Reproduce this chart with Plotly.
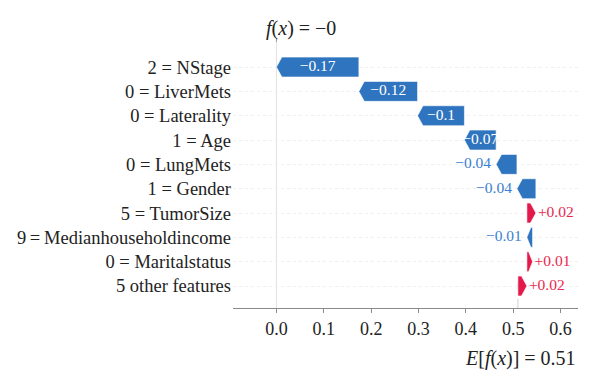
import plotly.graph_objects as go

# ---- data (top row first) ----
features = ["2 = NStage", "0 = LiverMets", "0 = Laterality", "1 = Age", "0 = LungMets",
            "1 = Gender", "5 = TumorSize", "9\u2009=\u2009Medianhouseholdincome",
            "0 = Maritalstatus", "5 other features"]
shap_values = [-0.1742, -0.124, -0.099, -0.067, -0.044, -0.040, 0.019, -0.012, 0.012, 0.019]
base_value = 0.510
x_ticks = [0.0, 0.1, 0.2, 0.3, 0.4, 0.5, 0.6]

BLUE = "#2E74BE"
RED = "#E3194B"
BLUE_TXT = "#3A7FD0"
RED_TXT = "#E8294F"
FONT = "Liberation Serif"


def fmt(v, f="%+0.02f"):
    s = (f % v).rstrip("0").rstrip(".")
    return s.replace("-", "\u2212")


n = len(features)
# walk from the bottom (base value) upward
order = list(range(n - 1, -1, -1))
start = {}
pos = base_value
for i in order:
    start[i] = pos
    pos += shap_values[i]
fx = pos

# page has an 8px body margin: compensate so the plot sits where the reference has it
ML, MR, MT, MB = 225, 30, 34, 90
X_RANGE = [-0.092, 0.637]
PLOT_W = 600 - ML - MR
px_per_unit = PLOT_W / (X_RANGE[1] - X_RANGE[0])
half_h = 0.41
head = 0.0115

polys = {"neg": ([], []), "pos": ([], [])}
in_x, in_y, in_t = [], [], []
out_neg = ([], [], [])
out_pos = ([], [], [])
for i in range(n):
    yc = n - 1 - i
    s = start[i]
    v = shap_values[i]
    e = s + v
    d = 1 if v > 0 else -1
    hl = min(head, abs(v) * 0.7)
    xs = [s, e - d * hl, e, e - d * hl, s, s, None]
    ys = [yc + half_h, yc + half_h, yc, yc - half_h, yc - half_h, yc + half_h, None]
    key = "pos" if v > 0 else "neg"
    polys[key][0].extend(xs)
    polys[key][1].extend(ys)
    label = fmt(v)
    if abs(v) * px_per_unit > 28:
        in_x.append((s + e) / 2)
        in_y.append(yc)
        in_t.append(label)
    elif v < 0:
        out_neg[0].append(e - 5 / px_per_unit)
        out_neg[1].append(yc)
        out_neg[2].append(label)
    else:
        out_pos[0].append(e + 2 / px_per_unit)
        out_pos[1].append(yc)
        out_pos[2].append(label)

fig = go.Figure()
for key, col in (("neg", BLUE), ("pos", RED)):
    fig.add_trace(go.Scatter(x=polys[key][0], y=polys[key][1], mode="lines",
                             fill="toself", fillcolor=col, line=dict(width=0.6, color="white"),
                             hoverinfo="skip", showlegend=False))
fig.add_trace(go.Scatter(x=in_x, y=in_y, text=in_t, mode="text",
                         textfont=dict(family=FONT, size=15.5, color="white"),
                         textposition="middle center", showlegend=False))
fig.add_trace(go.Scatter(x=out_neg[0], y=out_neg[1], text=out_neg[2], mode="text",
                         textfont=dict(family=FONT, size=15.5, color=BLUE_TXT),
                         textposition="middle left", showlegend=False))
fig.add_trace(go.Scatter(x=out_pos[0], y=out_pos[1], text=out_pos[2], mode="text",
                         textfont=dict(family=FONT, size=15.5, color=RED_TXT),
                         textposition="middle right", showlegend=False))

# reference lines
fig.add_shape(type="line", xref="x", yref="paper", x0=fx, x1=fx, y0=0, y1=1,
              line=dict(color="#dcdcdc", width=0.8), layer="below")
fig.add_shape(type="line", xref="x", yref="paper", x0=base_value, x1=base_value, y0=0,
              y1=1 / n, line=dict(color="#c4c4c4", width=0.8, dash="dash"), layer="below")
fig.add_shape(type="line", xref="x", yref="paper", x0=fx, x1=fx, y0=1, y1=1.012,
              line=dict(color="#999999", width=1))

fig.add_annotation(x=fx, y=1.049, xref="x", yref="paper", xanchor="left", yanchor="middle",
                   xshift=-12, showarrow=False,
                   text="<i>f</i>(<i>x</i>) = " + fmt(fx, "%0.03f"),
                   font=dict(family=FONT, size=20, color="#222222"))
fig.add_annotation(x=base_value, y=-0.188, xref="x", yref="paper", xanchor="center",
                   yanchor="middle", xshift=3, showarrow=False,
                   text="<i>E</i>[<i>f</i>(<i>x</i>)] = " + fmt(base_value, "%0.03f"),
                   font=dict(family=FONT, size=20, color="#222222"))

fig.update_layout(
    width=600, height=390,
    margin=dict(l=ML, r=MR, t=MT, b=MB),
    paper_bgcolor="white", plot_bgcolor="white",
    font=dict(family=FONT, color="#222222"),
    xaxis=dict(range=X_RANGE, tickvals=x_ticks, ticktext=[f"{t:.1f}" for t in x_ticks],
               showgrid=False, zeroline=False, showline=True, linecolor="#8a8a8a",
               linewidth=1, ticks="outside", ticklen=4, tickcolor="#8a8a8a",
               tickfont=dict(family=FONT, size=18, color="#222222")),
    yaxis=dict(range=[-0.904, n - 1 + 1.03], tickvals=list(range(n)),
               ticktext=features[::-1], showgrid=True, gridcolor="#efefef",
               griddash="dot", gridwidth=1, zeroline=False, showline=False, ticks="",
               ticklabelstandoff=1, automargin=False,
               tickfont=dict(family=FONT, size=18.5, color="#222222")),
)

fig.write_html("out.html")
